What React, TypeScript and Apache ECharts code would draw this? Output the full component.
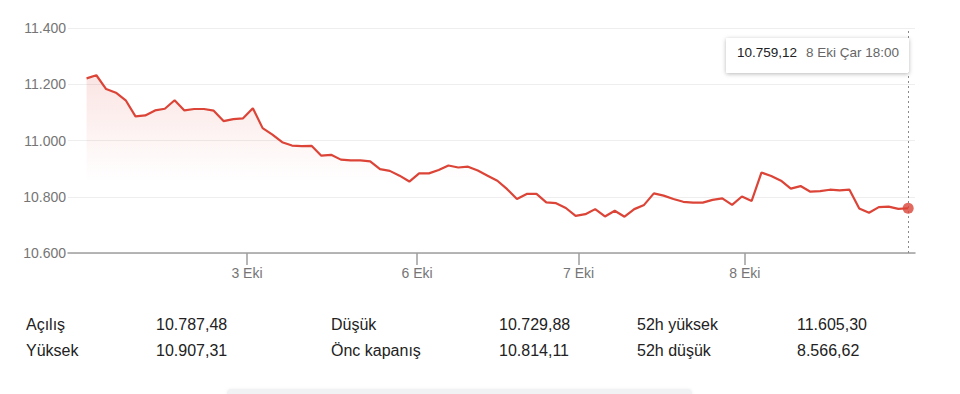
import React, { useEffect, useRef } from "react";
import * as echarts from "echarts";

const prices: number[] = [
  11221, 11232, 11183, 11170, 11143, 11086, 11089, 11107, 11113, 11143,
  11107, 11112, 11112, 11106, 11069, 11076, 11079, 11115, 11044, 11021,
  10994, 10982, 10980, 10981, 10946, 10949, 10932, 10929, 10929, 10926,
  10898, 10892, 10875, 10854, 10883, 10883, 10895, 10911, 10904, 10907,
  10893, 10875, 10857, 10827, 10792, 10810, 10810, 10780, 10777, 10760,
  10732, 10738, 10756, 10730, 10750, 10729, 10756, 10771, 10812, 10804,
  10792, 10782, 10779, 10779, 10789, 10794, 10771, 10801, 10785, 10886,
  10874, 10857, 10829, 10838, 10818, 10820, 10825, 10823, 10825, 10758,
  10743, 10763, 10765, 10757, 10759.12,
];

const dayTickPositions: number[] = [16.4, 33.8, 50.3, 67.3];
const dayTickLabels: string[] = ["3 Eki", "6 Eki", "7 Eki", "8 Eki"];

const yTickValues: number[] = [10600, 10800, 11000, 11200, 11400];

const tooltipTime = "8 Eki Çar 18:00";

const statLabelsCol1: string[] = ["Açılış", "Yüksek"];
const statValuesCol1: string[] = ["10.787,48", "10.907,31"];
const statLabelsCol2: string[] = ["Düşük", "Önc kapanış"];
const statValuesCol2: string[] = ["10.729,88", "10.814,11"];
const statLabelsCol3: string[] = ["52h yüksek", "52h düşük"];
const statValuesCol3: string[] = ["11.605,30", "8.566,62"];

const FONT = "'Liberation Sans', Arial, Helvetica, sans-serif";
const RED = "#db4437";

function fmtInt(v: number): string {
  const s = Math.round(v).toString();
  return s.replace(/\B(?=(\d{3})+(?!\d))/g, ".");
}
function fmtDec(v: number): string {
  const [i, d] = v.toFixed(2).split(".");
  return i.replace(/\B(?=(\d{3})+(?!\d))/g, ".") + "," + d;
}

export default function App() {
  const ref = useRef<HTMLDivElement>(null);

  useEffect(() => {
    if (!ref.current) return;
    const chart = echarts.init(ref.current, undefined, { renderer: "svg" });
    const lineData = prices.map((v, i) => [i, v]);
    const lastIdx = prices.length - 1;
    const lastVal = prices[lastIdx];

    const statCols = [
      { x: 26, items: statLabelsCol1 },
      { x: 156, items: statValuesCol1 },
      { x: 331, items: statLabelsCol2 },
      { x: 499, items: statValuesCol2 },
      { x: 637, items: statLabelsCol3 },
      { x: 797, items: statValuesCol3 },
    ];
    const rowY = [324, 350.5];
    const statTexts: any[] = [];
    statCols.forEach((c) => {
      c.items.forEach((t, r) => {
        statTexts.push({
          type: "text",
          x: c.x,
          y: rowY[r],
          style: {
            text: t,
            fontSize: 16,
            fontFamily: FONT,
            fill: "#222222",
            verticalAlign: "middle",
            align: "left",
          },
        });
      });
    });

    chart.setOption({
      animation: false,
      grid: { left: 68, right: 45, top: 28, height: 225 },
      xAxis: {
        type: "value",
        min: -1.9,
        max: 84.7,
        splitLine: { show: false },
        axisLine: { show: true, lineStyle: { color: "#9e9e9e", width: 1.5 } },
        axisTick: {
          show: true,
          customValues: dayTickPositions,
          length: 12,
          lineStyle: { color: "#9e9e9e", width: 1.5 },
        },
        axisLabel: {
          customValues: dayTickPositions,
          formatter: (v: number) => {
            const i = dayTickPositions.findIndex((p) => Math.abs(p - v) < 0.01);
            return i >= 0 ? dayTickLabels[i] : "";
          },
          color: "#757575",
          fontSize: 14,
          fontFamily: FONT,
          margin: 13,
        },
      },
      yAxis: {
        type: "value",
        min: yTickValues[0],
        max: yTickValues[yTickValues.length - 1],
        interval: 200,
        axisLine: { show: false },
        axisTick: { show: false },
        splitLine: { lineStyle: { color: "#eeeeee", width: 1 } },
        axisLabel: {
          formatter: (v: number) => fmtInt(v),
          color: "#757575",
          fontSize: 14,
          fontFamily: FONT,
          margin: 2,
        },
      },
      series: [
        {
          type: "line",
          data: lineData,
          showSymbol: false,
          symbol: "none",
          lineStyle: { color: RED, width: 2.2 },
          areaStyle: {
            origin: "start",
            color: new echarts.graphic.LinearGradient(0, 0, 0, 1, [
              { offset: 0, color: "rgba(219,68,55,0.2)" },
              { offset: 0.6, color: "rgba(219,68,55,0)" },
            ]),
          },
          markLine: {
            silent: true,
            symbol: ["none", "none"],
            label: { show: false },
            lineStyle: { type: [2, 3], color: "#8a8a8a", width: 1 },
            data: [{ xAxis: lastIdx }],
          },
        },
        {
          type: "scatter",
          data: [[lastIdx, lastVal]],
          symbol: "circle",
          symbolSize: 11,
          itemStyle: { color: RED },
          z: 5,
        },
      ],
      graphic: [
        {
          type: "rect",
          shape: { x: 726, y: 38, width: 183, height: 35, r: 1 },
          style: {
            fill: "#ffffff",
            shadowBlur: 4,
            shadowColor: "rgba(0,0,0,0.28)",
            shadowOffsetY: 1,
          },
          z: 100,
        },
        {
          type: "text",
          x: 737,
          y: 52,
          z: 101,
          style: {
            text: fmtDec(lastVal),
            fontSize: 13.5,
            fontWeight: 500,
            fontFamily: FONT,
            fill: "#202124",
            verticalAlign: "middle",
          },
        },
        {
          type: "text",
          x: 806,
          y: 52,
          z: 101,
          style: {
            text: tooltipTime,
            fontSize: 13.5,
            fontFamily: FONT,
            fill: "#666666",
            verticalAlign: "middle",
          },
        },
        ...statTexts,
        {
          type: "rect",
          shape: { x: 227, y: 389, width: 465, height: 10, r: 4 },
          style: { fill: "#f1f2f3", shadowBlur: 3, shadowColor: "rgba(0,0,0,0.06)" },
        },
      ],
    });
    return () => chart.dispose();
  }, []);

  return (
    <div
      ref={ref}
      style={{ position: "fixed", left: 0, top: 0, width: 960, height: 394, background: "#fff" }}
    />
  );
}
